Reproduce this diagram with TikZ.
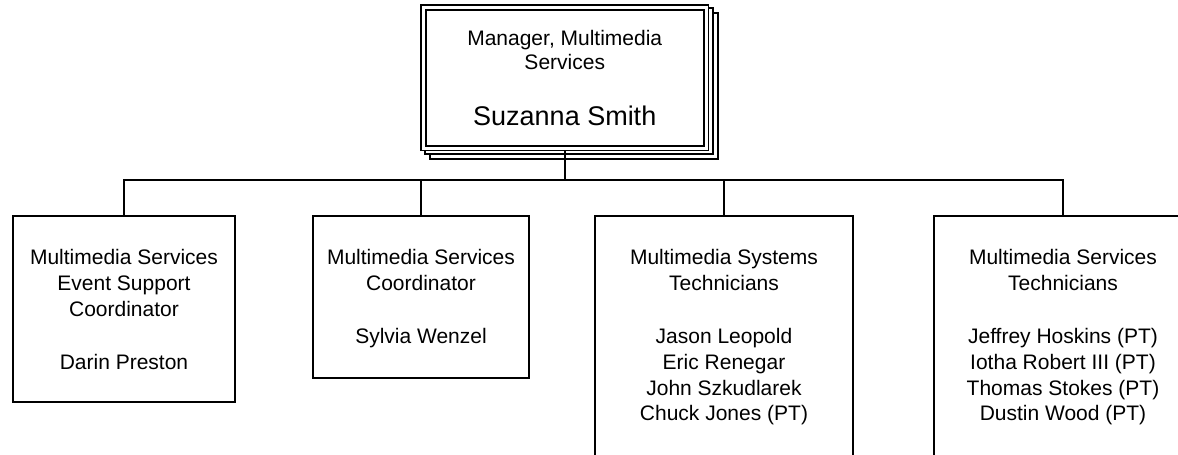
\documentclass[tikz,border=0pt]{standalone}
\usepackage{fontspec}
\setmainfont{Liberation Sans}
\usetikzlibrary{positioning,calc,backgrounds}

\begin{document}
\begin{tikzpicture}[x=1pt,y=-1pt,
  unit/.style={draw,line width=1.8pt,fill=white,inner sep=0pt,outer sep=0pt,anchor=north},
  role/.style={align=center,inner sep=0pt,font=\fontsize{21}{25.8}\selectfont},
  boss/.style={draw,double,line width=1.6pt,double distance=3pt,fill=white,
    outer sep=3.1pt,inner sep=0pt,align=center,font=\fontsize{21}{24}\selectfont},
  sheet/.style={draw,line width=1.5pt,fill=white},
  link/.style={line width=1.8pt}]

  \useasboundingbox (0,0) rectangle (1178,455);
  \clip (0,0) rectangle (1178,455);

  \node[boss,minimum width=282.5pt,minimum height=140.5pt] (mgr) at (564.75,77.75)
    {Manager, Multimedia\\Services\\[32pt]{\fontsize{27}{30}\selectfont Suzanna Smith}};
  \begin{scope}[on background layer]
    \draw[sheet] ($(mgr.north west)+(9.5,8.5)$) rectangle ($(mgr.south east)+(9,8)$);
    \draw[sheet] ($(mgr.north west)+(4.5,3.5)$) rectangle ($(mgr.south east)+(4,3)$);
  \end{scope}

  \node[unit,minimum width=222pt,minimum height=186pt] (event) at (124,216) {};
  \node[unit,minimum width=216pt,minimum height=162pt] (coord) at (421,216) {};
  \node[unit,minimum width=258pt,minimum height=270pt] (systech) at (724,216) {};
  \node[unit,minimum width=258pt,minimum height=270pt] (servtech) at (1063,216) {};

  \node[role,below=33.5pt of event.north] (event-txt)
    {Multimedia Services\\Event Support\\Coordinator\\[27pt]Darin Preston};
  \node[role,below=33.5pt of coord.north] (coord-txt)
    {Multimedia Services\\Coordinator\\[27pt]Sylvia Wenzel};
  \node[role,below=33.5pt of systech.north] (systech-txt)
    {Multimedia Systems\\Technicians\\[27pt]Jason Leopold\\Eric Renegar\\John Szkudlarek\\Chuck Jones (PT)};
  \node[role,below=33.5pt of servtech.north] (servtech-txt)
    {Multimedia Services\\Technicians\\[27pt]Jeffrey Hoskins (PT)\\Iotha Robert III (PT)\\Thomas Stokes (PT)\\Dustin Wood (PT)};

  \coordinate (bus) at (mgr.south |- 0,180);
  \draw[link] (mgr.south) -- (bus);
  \foreach \kid in {event,coord,systech,servtech}
    \draw[link] (bus) -| (\kid.north);

\end{tikzpicture}
\end{document}
